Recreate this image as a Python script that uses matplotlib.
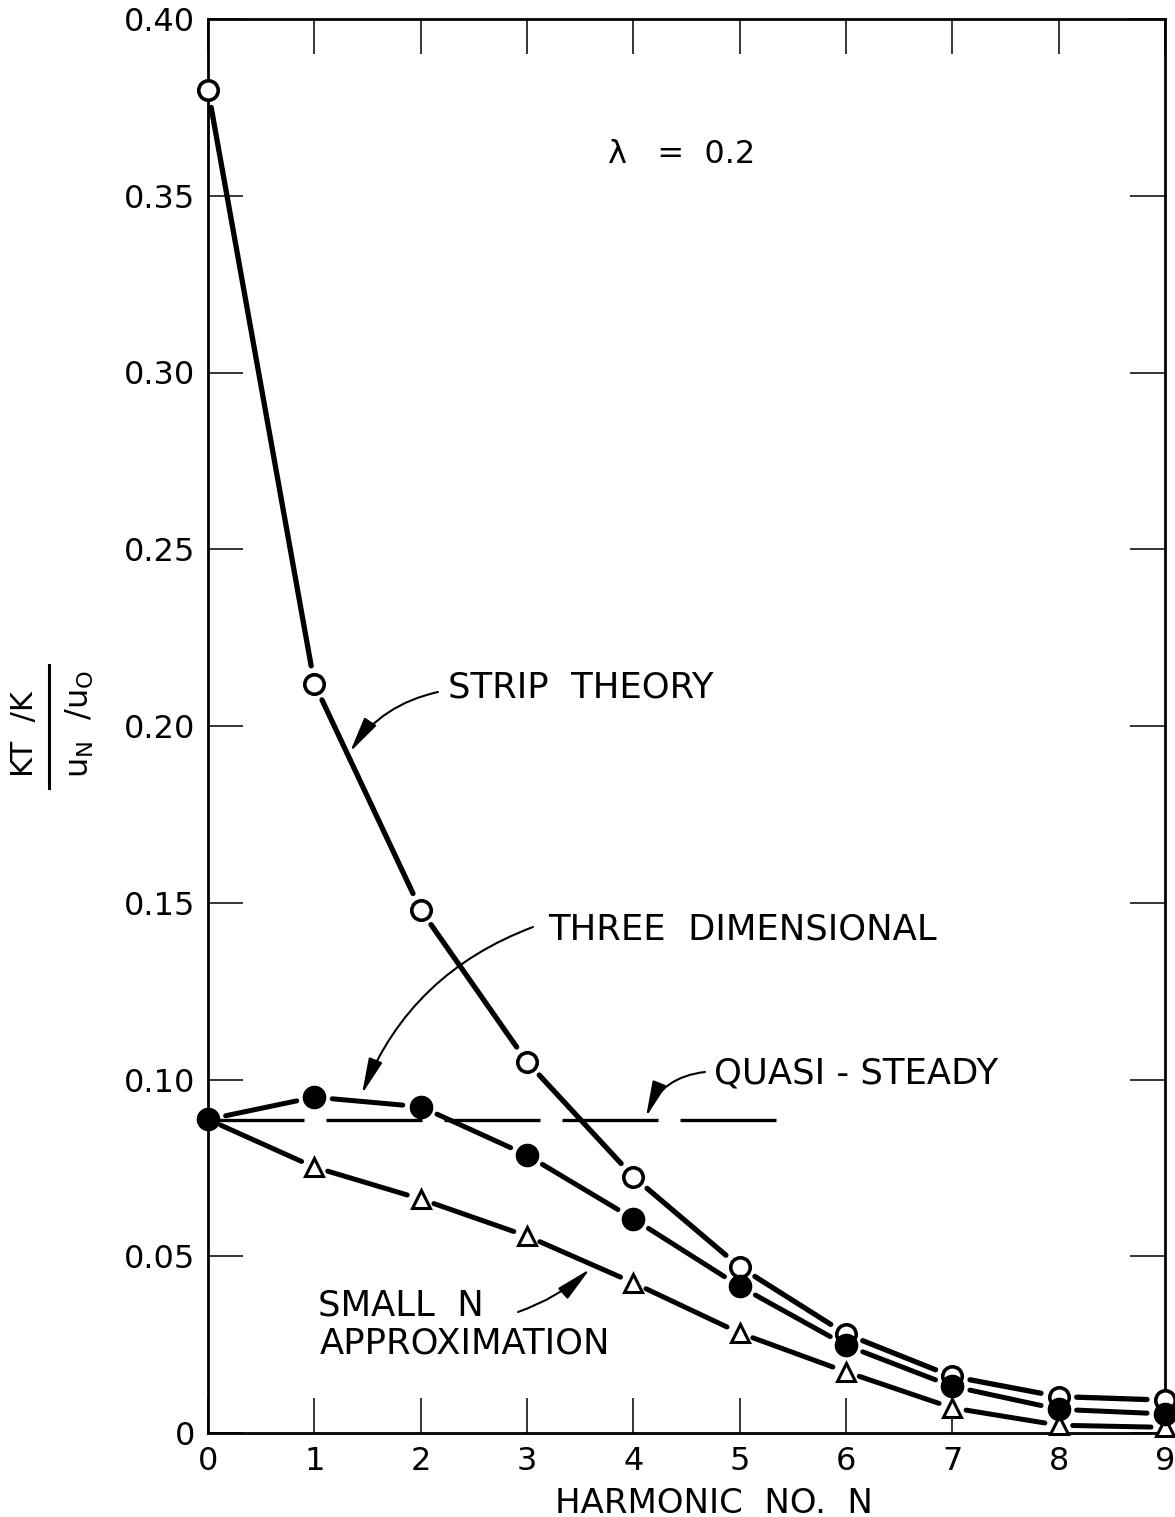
import numpy as np
import matplotlib
matplotlib.use("Agg")
import matplotlib.pyplot as plt
from matplotlib.lines import Line2D

plt.rcParams["font.family"] = ["DejaVu Sans"]
plt.rcParams["mathtext.fontset"] = "dejavusans"

# harmonic number N and the three thrust-ratio curves (lambda = 0.2)
harmonic_n = [0, 1, 2, 3, 4, 5, 6, 7, 8, 9]
strip_theory = [0.380, 0.212, 0.148, 0.105, 0.0725, 0.047, 0.028, 0.016, 0.0103, 0.0093]
three_dim = [0.0887, 0.095, 0.0923, 0.0786, 0.0606, 0.0415, 0.0248, 0.0132, 0.0067, 0.0054]
small_n = [0.0887, 0.0752, 0.0662, 0.0557, 0.0425, 0.0283, 0.0173, 0.0071, 0.0022, 0.0016]
quasi_steady = 0.0885
quasi_n = [0, 5.4]

y_ticks = [0, 0.05, 0.10, 0.15, 0.20, 0.25, 0.30, 0.35, 0.40]
y_tick_labels = ["0", "0.05", "0.10", "0.15", "0.20", "0.25", "0.30", "0.35", "0.40"]
x_tick_labels = ["0", "1", "2", "3", "4", "5", "6", "7", "8", "9"]

W, H = 1175, 1517
fig = plt.figure(figsize=(W / 100, H / 100), dpi=100)
ax = fig.add_axes([208 / W, (H - 1433) / H, (1165 - 208) / W, (1433 - 19) / H])
ax.set_xlim(0, 9)
ax.set_ylim(0, 0.40)

for side in ax.spines.values():
    side.set_linewidth(2.0)

ax.set_xticks(harmonic_n)
ax.set_xticklabels(x_tick_labels)
ax.set_yticks(y_ticks)
ax.set_yticklabels(y_tick_labels)
ax.tick_params(direction="in", length=25, width=1.1, top=True, right=True,
               labelsize=23)
ax.tick_params(axis="x", pad=9)
ax.tick_params(axis="y", pad=9.5)


def gapped_line(xs, ys, gap_px, **kw):
    # hand-drafted look: each segment stops short of the plotted symbols
    pts = ax.transData.transform(np.column_stack([xs, ys]))
    back = ax.transData.inverted()
    for p0, p1 in zip(pts[:-1], pts[1:]):
        d = p1 - p0
        u = d / np.hypot(*d)
        seg = back.transform([p0 + u * gap_px, p1 - u * gap_px])
        ax.plot(seg[:, 0], seg[:, 1], color="black", solid_capstyle="round", **kw)


gapped_line(harmonic_n, strip_theory, 18, lw=3.8, zorder=2)
gapped_line(harmonic_n, three_dim, 18, lw=3.6, zorder=2)
gapped_line(harmonic_n, small_n, 14, lw=3.6, zorder=2)

# quasi-steady level, long dashes
ax.plot(quasi_n, [quasi_steady, quasi_steady], color="black", lw=2.4,
        dashes=(28.8, 6.6), zorder=1)

ax.plot(harmonic_n, strip_theory, ls="none", marker="o", ms=14, mfc="white",
        mec="black", mew=2.6, zorder=3, clip_on=False)
ax.plot(harmonic_n[1:], small_n[1:], ls="none", marker="^", ms=13.5, mfc="white",
        mec="black", mew=2.2, zorder=3, clip_on=False)
ax.plot(harmonic_n, three_dim, ls="none", marker="o", ms=16, mfc="black",
        mec="black", zorder=4, clip_on=False)


def px(x, y):
    return (x - 208) / (957 / 9), (1433 - y) / 1414 * 0.40


arrow = dict(arrowstyle="-|>,head_length=1.1,head_width=0.22", color="black",
             lw=1.5, shrinkA=0, shrinkB=0, mutation_scale=20)

ax.text(*px(448, 697), "STRIP  THEORY", fontsize=25.5, ha="left", va="baseline")
ax.annotate("", xy=px(350, 752), xytext=px(438, 692),
            arrowprops=dict(arrow, connectionstyle="arc3,rad=0.2"))

ax.text(*px(548, 940), "THREE  DIMENSIONAL", fontsize=25.5, ha="left", va="baseline")
ax.annotate("", xy=px(362, 1094), xytext=px(533, 927),
            arrowprops=dict(arrow, connectionstyle="arc3,rad=0.22"))

ax.text(*px(714, 1083), "QUASI - STEADY", fontsize=25.5, ha="left", va="baseline")
ax.annotate("", xy=px(646, 1117), xytext=px(705, 1072),
            arrowprops=dict(arrow, connectionstyle="arc3,rad=0.3"))

ax.text(*px(318, 1315), "SMALL  N", fontsize=25.5, ha="left", va="baseline")
ax.text(*px(320, 1353), "APPROXIMATION", fontsize=25.5, ha="left", va="baseline")
ax.annotate("", xy=px(590, 1269), xytext=px(518, 1312),
            arrowprops=dict(arrow, connectionstyle="arc3,rad=0.1"))

ax.text(*px(608, 163), "λ   =  0.2", fontsize=23, ha="left", va="baseline")

ax.set_xlabel("HARMONIC  NO.  N", fontsize=24.5, va="baseline")
ax.xaxis.set_label_coords((714 - 208) / 957, (1433 - 1513) / 1414)

# stacked fraction for the ordinate label
fig.text(25 / W, 1 - 734 / H, "KT  /K", rotation=90, ha="center", va="center",
         fontsize=22)
fig.text(80 / W, 1 - 724 / H, r"u$_\mathregular{N}$  /u$_\mathregular{O}$",
         rotation=90, ha="center", va="center", fontsize=23)
fig.add_artist(Line2D([49 / W, 49 / W], [1 - 665 / H, 1 - 788 / H],
                      transform=fig.transFigure, lw=2.2, color="black"))

fig.savefig("out.png", dpi=100, facecolor="white")
